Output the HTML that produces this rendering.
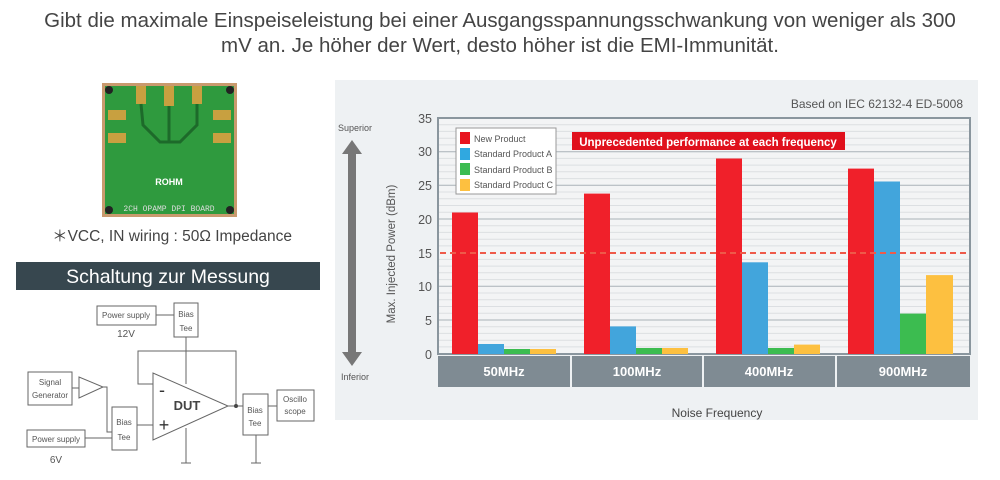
<!DOCTYPE html>
<html><head><meta charset="utf-8"><style>
body{margin:0;width:1000px;height:480px;background:#fff;overflow:hidden;font-family:"Liberation Sans",sans-serif;position:relative}
.t{position:absolute;white-space:nowrap}
</style></head><body>
<div class="t" style="left:0;width:1000px;top:8px;text-align:center;font-size:20.5px;line-height:25px;color:#444;white-space:normal">Gibt die maximale Einspeiseleistung bei einer Ausgangsspannungsschwankung von weniger als 300<br>mV an. Je höher der Wert, desto höher ist die EMI-Immunität.</div>

<svg width="1000" height="480" style="position:absolute;left:0;top:0" font-family="Liberation Sans, sans-serif">
<!-- board -->
<rect x="102" y="83" width="135" height="134" fill="#c99a6e"/>
<rect x="105" y="86" width="129" height="128" fill="#2f9a3e"/>
<circle cx="109" cy="90" r="4" fill="#222"/><circle cx="230" cy="90" r="4" fill="#222"/>
<circle cx="109" cy="210" r="4" fill="#222"/><circle cx="230" cy="210" r="4" fill="#222"/>
<g fill="#c8a040"><rect x="136" y="86" width="10" height="18"/><rect x="164" y="86" width="10" height="20"/><rect x="192" y="86" width="10" height="18"/>
<rect x="108" y="110" width="18" height="10"/><rect x="108" y="133" width="18" height="10"/><rect x="213" y="110" width="18" height="10"/><rect x="213" y="133" width="18" height="10"/></g>
<path d="M141 104 L143 125 L160 142 L180 142 L197 125 L197 104 M169 106 L169 142" stroke="#1d6a2a" stroke-width="3" fill="none"/>
<text x="169" y="185" font-size="9" font-weight="bold" fill="#fff" text-anchor="middle">ROHM</text>
<text x="169" y="211" font-size="8" fill="#ddd" text-anchor="middle" font-family="Liberation Mono, monospace">2CH OPAMP DPI BOARD</text>
<text x="172" y="241" font-size="15.5" fill="#444" text-anchor="middle">＊VCC, IN wiring : 50Ω Impedance</text>
<rect x="16" y="262" width="304" height="28" fill="#37474f"/>
<text x="168" y="283" font-size="19.5" fill="#fff" text-anchor="middle">Schaltung zur Messung</text>
<!-- circuit -->
<g stroke="#666" stroke-width="1" fill="#fff" font-size="8">
<rect x="97" y="306" width="59" height="19"/><rect x="174" y="303" width="24" height="34"/>
<line x1="156" y1="315" x2="174" y2="315"/><line x1="186" y1="337" x2="186" y2="384"/>
<polyline points="153,384 138,384 138,351 236,351 236,406" fill="none"/>
<polygon points="153,373 153,440 228,406"/>
<line x1="228" y1="406" x2="243" y2="406"/>
<rect x="28" y="372" width="44" height="33"/>
<line x1="72" y1="388" x2="79" y2="388"/>
<polygon points="79,377 79,398 103,387"/>
<polyline points="103,387 107,387 107,432 112,432" fill="none"/>
<rect x="112" y="407" width="25" height="43"/>
<line x1="137" y1="425" x2="153" y2="425"/>
<rect x="27" y="430" width="58" height="17"/>
<line x1="85" y1="438" x2="112" y2="438"/>
<rect x="243" y="394" width="25" height="41"/>
<rect x="277" y="390" width="37" height="31"/>
<line x1="268" y1="406" x2="277" y2="406"/>
<line x1="186" y1="428" x2="186" y2="463"/><line x1="256" y1="435" x2="256" y2="463"/>
<line x1="181" y1="463" x2="191" y2="463"/><line x1="251" y1="463" x2="261" y2="463"/>
</g>
<circle cx="236" cy="406" r="2" fill="#444"/>
<g fill="#555" font-size="8" text-anchor="middle">
<text x="126" y="318">Power supply</text><text x="126" y="337" font-size="10">12V</text>
<text x="186" y="317">Bias</text><text x="186" y="331">Tee</text>
<text x="50" y="385">Signal</text><text x="50" y="398">Generator</text>
<text x="124" y="425">Bias</text><text x="124" y="440">Tee</text>
<text x="56" y="442">Power supply</text><text x="56" y="463" font-size="10">6V</text>
<text x="255" y="413">Bias</text><text x="255" y="426">Tee</text>
<text x="295" y="402">Oscillo</text><text x="295" y="414">scope</text>
<text x="187" y="410" font-size="13" font-weight="bold" fill="#444">DUT</text>
<text x="162" y="396" font-size="18" fill="#333">-</text><text x="164" y="431" font-size="18" fill="#333">+</text>
</g>
<!-- chart panel -->
<rect x="335" y="80" width="643" height="340" fill="#eef1f3"/>
<text x="963" y="108" font-size="12" fill="#555" text-anchor="end">Based on IEC 62132-4 ED-5008</text>
<rect x="438" y="118" width="532" height="236" fill="#f3f4f5" stroke="#8a969e" stroke-width="2"/>
<g stroke="#dcdfe2" stroke-width="1">
<line x1="439" x2="969" y1="124.7" y2="124.7"/><line x1="439" x2="969" y1="131.4" y2="131.4"/><line x1="439" x2="969" y1="138.2" y2="138.2"/><line x1="439" x2="969" y1="144.9" y2="144.9"/>
<line x1="439" x2="969" y1="158.4" y2="158.4"/><line x1="439" x2="969" y1="165.1" y2="165.1"/><line x1="439" x2="969" y1="171.8" y2="171.8"/><line x1="439" x2="969" y1="178.6" y2="178.6"/>
<line x1="439" x2="969" y1="192" y2="192"/><line x1="439" x2="969" y1="198.8" y2="198.8"/><line x1="439" x2="969" y1="205.5" y2="205.5"/><line x1="439" x2="969" y1="212.2" y2="212.2"/>
<line x1="439" x2="969" y1="225.7" y2="225.7"/><line x1="439" x2="969" y1="232.4" y2="232.4"/><line x1="439" x2="969" y1="239.2" y2="239.2"/><line x1="439" x2="969" y1="245.9" y2="245.9"/>
<line x1="439" x2="969" y1="259.4" y2="259.4"/><line x1="439" x2="969" y1="266.1" y2="266.1"/><line x1="439" x2="969" y1="272.8" y2="272.8"/><line x1="439" x2="969" y1="279.6" y2="279.6"/>
<line x1="439" x2="969" y1="293" y2="293"/><line x1="439" x2="969" y1="299.8" y2="299.8"/><line x1="439" x2="969" y1="306.5" y2="306.5"/><line x1="439" x2="969" y1="313.2" y2="313.2"/>
<line x1="439" x2="969" y1="326.7" y2="326.7"/><line x1="439" x2="969" y1="333.4" y2="333.4"/><line x1="439" x2="969" y1="340.2" y2="340.2"/><line x1="439" x2="969" y1="346.9" y2="346.9"/>
</g>
<g stroke="#a9b2b8" stroke-width="1">
<line x1="439" x2="969" y1="151.7" y2="151.7"/><line x1="439" x2="969" y1="185.3" y2="185.3"/><line x1="439" x2="969" y1="219" y2="219"/>
<line x1="439" x2="969" y1="286.3" y2="286.3"/><line x1="439" x2="969" y1="320" y2="320"/>
</g>
<g fill="#555" font-size="12.5" text-anchor="end">
<text x="432" y="123">35</text><text x="432" y="156">30</text><text x="432" y="190">25</text><text x="432" y="224">20</text>
<text x="432" y="258">15</text><text x="432" y="291">10</text><text x="432" y="325">5</text><text x="432" y="359">0</text></g>
<!-- bars -->
<g>
<rect x="452" y="212.5" width="26" height="141.5" fill="#f0202a"/><rect x="478" y="344" width="26" height="10" fill="#42a5dc"/><rect x="504" y="349" width="26" height="5" fill="#3cbc50"/><rect x="530" y="349" width="26" height="5" fill="#fdc040"/>
<rect x="584" y="193.6" width="26" height="160.4" fill="#f0202a"/><rect x="610" y="326.4" width="26" height="27.6" fill="#42a5dc"/><rect x="636" y="348" width="26" height="6" fill="#3cbc50"/><rect x="662" y="348" width="26" height="6" fill="#fdc040"/>
<rect x="716" y="158.5" width="26" height="195.5" fill="#f0202a"/><rect x="742" y="262.3" width="26" height="91.7" fill="#42a5dc"/><rect x="768" y="348" width="26" height="6" fill="#3cbc50"/><rect x="794" y="344.6" width="26" height="9.4" fill="#fdc040"/>
<rect x="848" y="168.6" width="26" height="185.4" fill="#f0202a"/><rect x="874" y="181.5" width="26" height="172.5" fill="#42a5dc"/><rect x="900" y="313.6" width="26" height="40.4" fill="#3cbc50"/><rect x="926" y="275.1" width="27" height="78.9" fill="#fdc040"/>
</g>
<line x1="440" y1="253" x2="968" y2="253" stroke="#ee5a4a" stroke-width="2" stroke-dasharray="6,4"/>
<!-- category band -->
<rect x="438" y="356" width="532" height="31" fill="#7f8b93"/>
<g stroke="#eef1f3" stroke-width="2"><line x1="571" y1="356" x2="571" y2="387"/><line x1="703" y1="356" x2="703" y2="387"/><line x1="836" y1="356" x2="836" y2="387"/></g>
<g fill="#fff" font-size="13" font-weight="bold" text-anchor="middle">
<text x="504" y="376">50MHz</text><text x="637" y="376">100MHz</text><text x="769" y="376">400MHz</text><text x="903" y="376">900MHz</text></g>
<text x="717" y="417" font-size="12" fill="#444" text-anchor="middle">Noise Frequency</text>
<text transform="translate(395,254) rotate(-90)" font-size="11.5" fill="#555" text-anchor="middle">Max. Injected Power (dBm)</text>
<!-- arrow -->
<text x="355" y="131" font-size="9" fill="#555" text-anchor="middle">Superior</text>
<text x="355" y="380" font-size="9" fill="#555" text-anchor="middle">Inferior</text>
<polygon points="352,140 342,154 348,154 348,352 342,352 352,366 362,352 356,352 356,154 362,154" fill="#777"/>
<!-- legend -->
<rect x="456" y="128" width="100" height="66" fill="#fff" stroke="#999" stroke-width="1"/>
<rect x="460" y="132" width="10" height="12" fill="#e81520"/><rect x="460" y="148" width="10" height="12" fill="#30a8e0"/>
<rect x="460" y="163" width="10" height="12" fill="#3cbc50"/><rect x="460" y="179" width="10" height="12" fill="#fdc040"/>
<g font-size="9" fill="#555"><text x="474" y="142">New Product</text><text x="474" y="157">Standard Product A</text><text x="474" y="173">Standard Product B</text><text x="474" y="188">Standard Product C</text></g>
<rect x="572" y="132" width="273" height="18" fill="#e0101c"/>
<text x="708" y="146" font-size="11.5" font-weight="bold" fill="#fff" text-anchor="middle">Unprecedented performance at each frequency</text>
</svg>
</body></html>
